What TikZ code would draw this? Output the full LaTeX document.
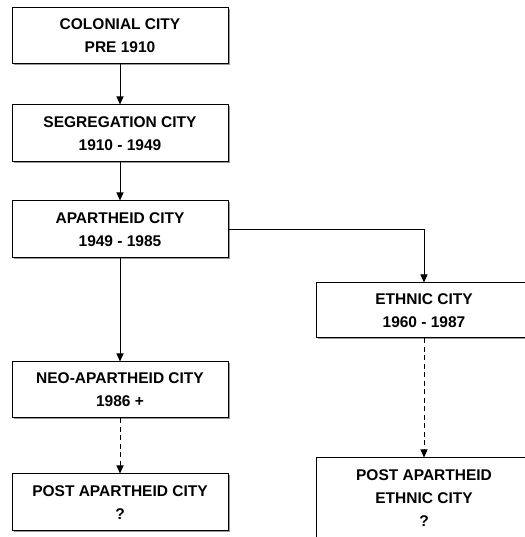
\documentclass[tikz,border=0pt]{standalone}
\usepackage{fontspec}
\setmainfont{Liberation Sans}
\usetikzlibrary{arrows.meta,shadows}
\begin{document}
\begin{tikzpicture}[x=1pt,y=1pt,
  citybox/.style={draw=black, line width=1pt, fill=white, rectangle,
    minimum width=216pt, inner sep=0pt, align=center,
    font=\fontsize{15.5}{23}\selectfont\bfseries,
    drop shadow={shadow xshift=1.5pt, shadow yshift=-1.5pt, fill=black!40, opacity=1}},
  link/.style={line width=0.9pt, -{Triangle[width=7pt,length=8pt]}},
  dashlink/.style={link, dash pattern=on 5pt off 3.5pt}]
\useasboundingbox (0,0) rectangle (524,537);
\node[citybox, minimum height=56pt] (b1) at (120,501) {COLONIAL CITY\\PRE 1910};
\node[citybox, minimum height=57pt] (b2) at (120,403.5) {SEGREGATION CITY\\1910 - 1949};
\node[citybox, minimum height=57pt] (b3) at (120,307.5) {APARTHEID CITY\\1949 - 1985};
\node[citybox, minimum height=56pt] (neo) at (120,147) {NEO-APARTHEID CITY\\1986 +};
\node[citybox, minimum height=57pt] (postL) at (120,34.5) {POST APARTHEID CITY\\?};
\node[citybox, minimum height=55pt, minimum width=230pt] (eth) at (431,226.5) {\hspace*{-14pt}ETHNIC CITY\\\hspace*{-14pt}1960 - 1987};
\node[citybox, minimum height=80pt, minimum width=230pt] (postE) at (431,39) {\hspace*{-14pt}POST APARTHEID\\\hspace*{-14pt}ETHNIC CITY\\\hspace*{-14pt}?};
\coordinate (ethin) at ([xshift=-7pt]eth.north);
\draw[link] (b1.south) -- (b2.north);
\draw[link] (b2.south) -- (b3.north);
\draw[link] (b3.south) -- (neo.north);
\draw[link] (b3.east) -| (ethin);
\draw[dashlink] (neo.south) -- (postL.north);
\draw[dashlink] (eth.south -| ethin) -- (postE.north -| ethin);
\end{tikzpicture}
\end{document}
